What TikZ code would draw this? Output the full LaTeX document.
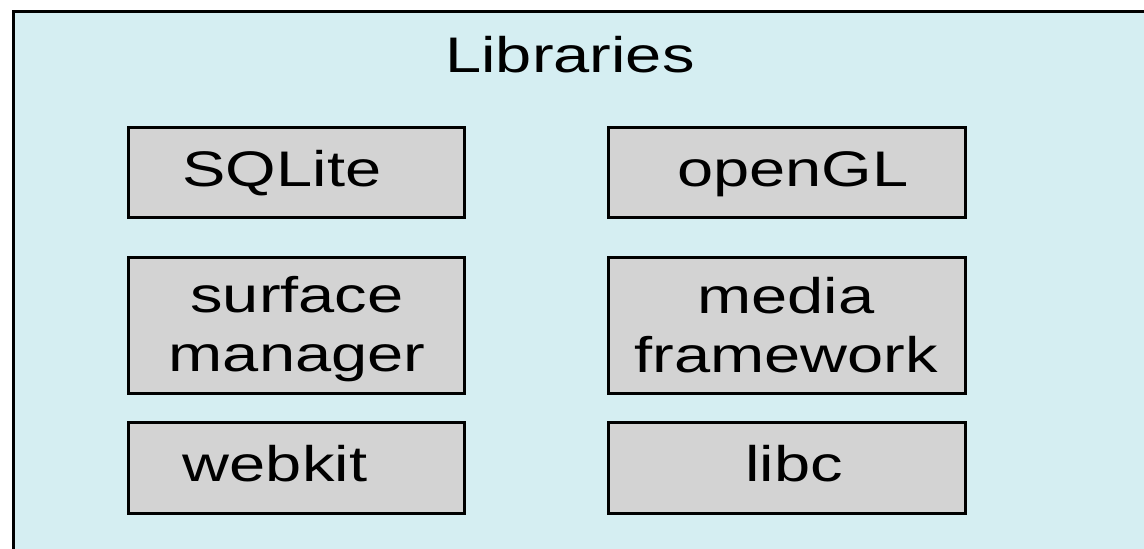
\documentclass[tikz,border=0pt]{standalone}
\usepackage{fontspec}
\setmainfont{Liberation Sans}
\definecolor{panelbg}{RGB}{213,238,242}
\definecolor{boxgray}{RGB}{211,211,211}
\newcommand{\stretchtext}[1]{\scalebox{1.3}[1]{#1}}
\begin{document}
\begin{tikzpicture}[x=1pt,y=-1pt,
  libbox/.style={draw=black, line width=3pt, fill=boxgray, rectangle, inner sep=0pt, anchor=north west},
  libtext/.style={font=\fontsize{50}{59}\selectfont, inner sep=0pt, anchor=base},
]
\useasboundingbox (0,0) rectangle (1144,549);
\clip (0,0) rectangle (1144,549);
\node[draw=black, line width=3pt, fill=panelbg, rectangle, inner sep=0pt,
      minimum width=1160pt, minimum height=570pt, anchor=north west] (panel) at (12,10) {};
\node[libtext] (title) at (570,72.3) {\stretchtext{Libraries}};

\node[libbox, minimum width=336pt, minimum height=90pt] (sqlite) at (127,126) {};
\node[libbox, minimum width=336pt, minimum height=136pt] (surface) at (127,256) {};
\node[libbox, minimum width=336pt, minimum height=91pt] (webkit) at (127,421) {};
\node[libbox, minimum width=357pt, minimum height=90pt] (opengl) at (607,126) {};
\node[libbox, minimum width=357pt, minimum height=136pt] (media) at (607,256) {};
\node[libbox, minimum width=357pt, minimum height=91pt] (libc) at (607,421) {};

\node[libtext] (sqlite-t) at (282,186.7) {\stretchtext{SQLite}};
\node[libtext] (surface-t) at (297,312) {\stretchtext{\begin{tabular}[t]{@{}c@{}}surface\\manager\end{tabular}}};
\node[libtext] (webkit-t) at (275,481.7) {\stretchtext{webkit}};
\node[libtext] (opengl-t) at (793,186.7) {\stretchtext{openGL}};
\node[libtext] (media-t) at (786,313) {\stretchtext{\begin{tabular}[t]{@{}c@{}}media\\framework\end{tabular}}};
\node[libtext] (libc-t) at (794,481.7) {\stretchtext{libc}};
\end{tikzpicture}
\end{document}
